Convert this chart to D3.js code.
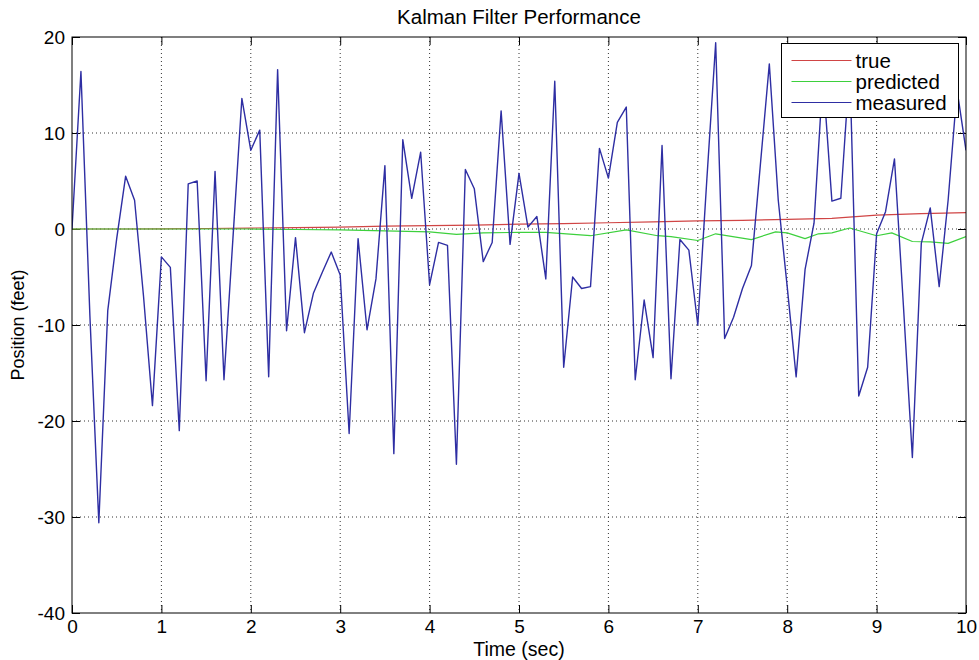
<!DOCTYPE html>
<html>
<head>
<meta charset="utf-8">
<script src="https://cdn.jsdelivr.net/npm/d3@7"></script>
<style>
  html, body { margin: 0; padding: 0; background: #fff; }
  svg { display: block; }
  text { font-family: "Liberation Sans", Arial, Helvetica, sans-serif; fill: #000; }
</style>
</head>
<body>
<svg id="chart" width="979" height="660"></svg>
<script>
// Measured position samples, one every 0.1 s from 0 to 10 s
const measuredTime = d3.range(0, 101).map(i => i / 10);
const measuredValues = [
  0, 16.4, -9, -30.6, -8.5, -1, 5.5, 3.0, -7, -18.4,
  -2.9, -4.0, -21.0, 4.7, 5.0, -15.8, 6.0, -15.7, -1, 13.6,
  8.2, 10.3, -15.4, 16.6, -10.6, -0.9, -10.8, -6.7, -4.5, -2.4,
  -4.8, -21.3, -1.0, -10.5, -5.2, 6.6, -23.4, 9.3, 3.2, 8.0,
  -5.8, -1.4, -1.7, -24.5, 6.2, 4.2, -3.4, -1.4, 12.3, -1.6,
  5.8, 0.2, 1.3, -5.2, 15.4, -14.4, -5.0, -6.2, -6.0, 8.4,
  5.3, 11.1, 12.7, -15.7, -7.4, -13.4, 8.7, -15.6, -1.1, -2.2,
  -10.0, 5, 19.4, -11.4, -9.2, -6.2, -3.8, 6.7, 17.2, 3.0,
  -6.0, -15.4, -4.2, 0.6, 16, 2.9, 3.2, 17, -17.4, -14.4,
  -0.5, 1.8, 7.3, -8, -23.8, -1.5, 2.2, -6.0, 3, 14.5,
  8.2
];

// True position
const trueTime   = [0, 0.5, 1, 1.5, 2, 2.5, 3, 3.5, 4, 4.5, 5, 5.5, 6, 6.5, 7, 7.5, 8, 8.5, 9, 9.5, 10];
const trueValues = [0, 0, 0.02, 0.05, 0.1, 0.15, 0.2, 0.3, 0.35, 0.4, 0.5, 0.55, 0.65, 0.75, 0.85, 0.9, 1.0, 1.1, 1.45, 1.6, 1.7];

// Kalman filter estimate
const predictedTime   = [0, 0.5, 1, 1.5, 2, 2.5, 3, 3.5, 4, 4.3, 4.6, 5, 5.3, 5.8, 6.2, 6.55, 6.7, 7.0, 7.2, 7.6, 7.87, 8.0, 8.2, 8.35, 8.5, 8.7, 9.0, 9.17, 9.4, 9.6, 9.8, 10];
const predictedValues = [0, 0, 0, 0, 0, -0.05, -0.1, -0.2, -0.3, -0.55, -0.4, -0.35, -0.35, -0.7, -0.1, -0.7, -0.8, -1.2, -0.5, -1.1, -0.3, -0.4, -1.0, -0.5, -0.4, 0.1, -0.7, -0.4, -1.3, -1.35, -1.5, -0.8];

const xTicks = [0, 1, 2, 3, 4, 5, 6, 7, 8, 9, 10];
const yTicks = [-40, -30, -20, -10, 0, 10, 20];

const seriesNames = ["true", "predicted", "measured"];
const seriesColors = ["#d04545", "#3dd03d", "#2e2ea3"];

const svg = d3.select("#chart");
const W = 979, H = 660;
const margin = { top: 37, right: 13, bottom: 47, left: 72 };
const iw = W - margin.left - margin.right;
const ih = H - margin.top - margin.bottom;

const x = d3.scaleLinear().domain([0, 10]).range([0, iw]);
const y = d3.scaleLinear().domain([-40, 20]).range([ih, 0]);

const g = svg.append("g").attr("transform", `translate(${margin.left},${margin.top})`);

// dotted grid
g.append("g").selectAll("line").data(xTicks.slice(1, -1)).join("line")
  .attr("x1", d => x(d)).attr("x2", d => x(d)).attr("y1", 0).attr("y2", ih)
  .attr("stroke", "#333").attr("stroke-width", 1).attr("stroke-dasharray", "1,3");
g.append("g").selectAll("line").data(yTicks.slice(1, -1)).join("line")
  .attr("y1", d => y(d)).attr("y2", d => y(d)).attr("x1", 0).attr("x2", iw)
  .attr("stroke", "#333").attr("stroke-width", 1).attr("stroke-dasharray", "1,3");

// axes with inward ticks on all four sides
const tickLen = 8;
const fontTick = 19;
const fmt = d => String(d);
const bottomAxis = g.append("g").attr("transform", `translate(0,${ih})`)
  .call(d3.axisBottom(x).tickValues(xTicks).tickSize(-tickLen).tickPadding(7).tickFormat(fmt));
const leftAxis = g.append("g")
  .call(d3.axisLeft(y).tickValues(yTicks).tickSize(-tickLen).tickPadding(7).tickFormat(fmt));
const topAxis = g.append("g")
  .call(d3.axisTop(x).tickValues(xTicks).tickSize(-tickLen).tickFormat(""));
const rightAxis = g.append("g").attr("transform", `translate(${iw},0)`)
  .call(d3.axisRight(y).tickValues(yTicks).tickSize(-tickLen).tickFormat(""));
[bottomAxis, leftAxis, topAxis, rightAxis].forEach(a => {
  a.select(".domain").remove();
  a.selectAll(".tick line").attr("stroke", "#000");
  a.selectAll("text").attr("font-size", fontTick).attr("fill", "#000")
    .attr("font-family", "'Liberation Sans', Arial, sans-serif");
});

// series lines
const line = d3.line().x(d => x(d[0])).y(d => y(d[1]));
const series = [
  d3.zip(trueTime, trueValues),
  d3.zip(predictedTime, predictedValues),
  d3.zip(measuredTime, measuredValues)
];
svg.append("clipPath").attr("id", "plotclip")
  .append("rect").attr("width", iw).attr("height", ih);
const plot = g.append("g").attr("clip-path", "url(#plotclip)");
series.forEach((s, i) => {
  plot.append("path").datum(s)
    .attr("fill", "none").attr("stroke", seriesColors[i])
    .attr("stroke-width", i === 2 ? 1.4 : 1.2)
    .attr("stroke-linejoin", "round")
    .attr("d", line);
});

// axes frame
g.append("rect").attr("width", iw).attr("height", ih)
  .attr("fill", "none").attr("stroke", "#000").attr("stroke-width", 1);

// legend
const lg = svg.append("g").attr("transform", "translate(781.5,43.5)");
lg.append("rect").attr("width", 177).attr("height", 74)
  .attr("fill", "#fff").attr("stroke", "#000").attr("stroke-width", 1);
seriesNames.forEach((name, i) => {
  const yy = 17 + i * 21;
  lg.append("line").attr("x1", 10).attr("x2", 70).attr("y1", yy).attr("y2", yy)
    .attr("stroke", seriesColors[i]).attr("stroke-width", 1);
  lg.append("text").attr("x", 74).attr("y", yy).attr("dy", "0.35em")
    .attr("font-size", 20.5).text(name);
});

// titles
svg.append("text").attr("x", margin.left + iw / 2).attr("y", 24)
  .attr("text-anchor", "middle").attr("font-size", 20.5).text("Kalman Filter Performance");
svg.append("text").attr("x", margin.left + iw / 2).attr("y", 656)
  .attr("text-anchor", "middle").attr("font-size", 19.5).text("Time (sec)");
svg.append("text").attr("transform", `translate(24,${margin.top + ih / 2}) rotate(-90)`)
  .attr("text-anchor", "middle").attr("font-size", 18).text("Position (feet)");
</script>
</body>
</html>
